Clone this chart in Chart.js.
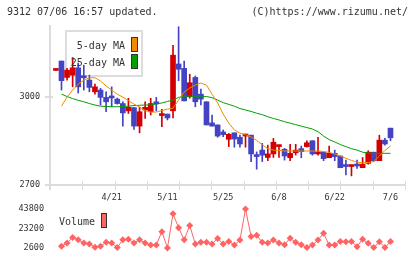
<!DOCTYPE html>
<html>
<head>
<meta charset="utf-8">
<script src="https://cdn.jsdelivr.net/npm/chart.js@4/dist/chart.umd.min.js"></script>
<style>
  body { margin: 0; background: #fff; }
  #wrap { position: relative; width: 420px; height: 259px; overflow: hidden; font-family: "DejaVu Sans Mono", monospace; color: #333; }
  #wrap canvas { position: absolute; left: 0; top: 0; }
  .txt { position: absolute; font-size: 10px; line-height: 12px; white-space: pre; }
  #legbox { position: absolute; left: 65px; top: 30px; width: 74px; height: 43px; border: 2px solid #ddd; }
  .sw { position: absolute; width: 5px; height: 13px; border: 1px solid #333; }
</style>
</head>
<body>
<div id="wrap">
  <div id="legbox"></div>
  <canvas id="main" width="420" height="259"></canvas>
  <canvas id="vol" width="420" height="259"></canvas>
  <div class="txt" style="left:7px;top:6px">9312 07/06 16:57 updated.</div>
  <div class="txt" style="right:12px;top:6px">(C)https://www.rizumu.net/</div>
  <div class="txt" style="right:295px;top:40px">5-day MA</div>
  <div class="txt" style="right:295px;top:57px">25-day MA</div>
  <div class="sw" style="left:131px;top:37px;background:#f08a00"></div>
  <div class="sw" style="left:131px;top:54px;background:#00a000"></div>
  <div class="txt" style="left:59px;top:216px">Volume</div>
  <div class="sw" style="left:101px;top:213px;width:4px;background:#ff6464"></div>
</div>
<script>
const dates = ["4/7","4/8","4/9","4/10","4/13","4/14","4/15","4/16","4/17","4/20",
  "4/21","4/22","4/23","4/24","4/27","4/28","4/30","5/1","5/7","5/8",
  "5/11","5/12","5/13","5/14","5/15","5/18","5/19","5/20","5/21","5/22",
  "5/25","5/26","5/27","5/28","5/29","6/1","6/2","6/3","6/4","6/5",
  "6/8","6/9","6/10","6/11","6/12","6/15","6/16","6/17","6/18","6/19",
  "6/22","6/23","6/24","6/25","6/26","6/29","6/30","7/1","7/2","7/3",
  "7/6"];

const opens = [3091,3123,3067,3075,3100,3071,3058,3018,3024,2999,
  3001,2993,2978,2953,2964,2901,2956,2950,2979,2937,
  2942,2953,3113,3098,3001,3067,3010,2984,2912,2905,
  2881,2856,2878,2863,2867,2870,2800,2819,2794,2806,
  2831,2822,2793,2810,2824,2831,2851,2806,2812,2793,
  2808,2799,2766,2763,2771,2759,2774,2812,2783,2853,
  2894];
const highs = [3093,3123,3098,3135,3116,3109,3075,3044,3030,3018,
  3035,2997,2984,2996,2964,2965,2984,2996,2999,2958,
  2942,3177,3240,3123,3078,3072,3027,2984,2939,2905,
  2888,2876,2878,2870,2874,2870,2813,2842,2836,2859,
  2836,2825,2839,2839,2833,2851,2851,2863,2812,2833,
  2819,2799,2785,2768,2785,2794,2817,2812,2870,2859,
  2894];
const lows = [3091,3024,3058,3035,3014,3024,3018,3010,2973,2950,
  2967,2976,2901,2944,2890,2878,2927,2939,2953,2899,
  2922,2929,3056,2987,2996,2967,2973,2905,2901,2863,
  2865,2831,2829,2829,2829,2780,2754,2780,2783,2794,
  2794,2785,2783,2802,2793,2829,2802,2802,2783,2793,
  2783,2759,2734,2731,2757,2759,2771,2780,2783,2836,
  2851];
const closes = [3093,3056,3092,3100,3035,3066,3033,3035,2999,2984,
  2997,2978,2946,2965,2901,2950,2965,2978,2977,2941,
  2929,3143,3095,2987,3049,2984,2993,2905,2901,2867,
  2872,2873,2857,2840,2874,2806,2797,2802,2806,2846,
  2836,2799,2808,2819,2814,2844,2806,2812,2790,2808,
  2797,2759,2763,2768,2765,2771,2812,2783,2853,2840,
  2861];

const ma5 = [null,2969,3000,3024,3044,3058,3066,3066,3055,3038,
  3024,3010,3000,2988,2976,2966,2954,2949,2949,2954,
  2959,2962,2990,3017,3031,3041,3048,3041,3010,2980,
  2942,2911,2888,2877,2872,2864,2852,2837,2824,2819,
  2818,2816,2816,2816,2816,2816,2816,2816,2814,2811,
  2806,2799,2791,2784,2778,2776,2777,2780,2799,2818,
  2833];
const ma25 = [null,3010,3002,2995,2989,2984,2978,2973,2969,2968,
  2967,2967,2968,2969,2971,2972,2973,2973,2976,2980,
  2985,2990,2999,3003,3003,3003,3003,3002,2998,2990,
  2981,2975,2969,2961,2956,2951,2945,2940,2933,2927,
  2922,2916,2911,2906,2901,2896,2891,2882,2867,2855,
  2847,2838,2831,2824,2819,2812,2809,2808,2808,2808,
  2808];

const volume = [null,4400,7750,13600,11150,7750,6700,3300,4350,8470,
  7750,2900,11150,11870,7750,11150,7750,5690,5690,19800,
  2600,38650,23920,11150,26300,6700,8470,8470,6700,12590,
  6700,9500,5690,10840,43800,14650,16000,8470,7750,10840,
  7750,6000,12900,8470,6000,2900,5690,10840,18050,5690,
  5690,9500,9090,9500,3940,11870,7440,2900,9090,2900,
  9500];

const labelIdx = [10, 20, 30, 40, 50, 60];
const priceTicks = [2700, 3000];
const volTicks = [2600, 23200, 43800];

const RED = "#d40000", BLUE = "#4343c3", ORANGE = "#f08a00", GREEN = "#00a000", VOLC = "#ff6464";
const FONT = { family: '"DejaVu Sans Mono", monospace', size: 8.5 };
const xMin = -1.06, xMax = 62.6;

const candleColors = opens.map((o, i) => closes[i] >= o ? RED : BLUE);

// axis lines and the short tick marks, placed through the chart's scales
const axisLines = {
  id: "axisLines",
  beforeDatasetsDraw(chart) {
    const { ctx, chartArea: a, scales: { x, y } } = chart;
    ctx.save();
    ctx.strokeStyle = "#dcdcdc";
    ctx.lineWidth = 2;
    ctx.beginPath();
    ctx.moveTo(a.left, a.top);
    ctx.lineTo(a.left, a.bottom + 5);
    ctx.moveTo(a.left - 5, a.bottom);
    ctx.lineTo(a.right, a.bottom);
    priceTicks.forEach(v => {
      const py = y.getPixelForValue(v);
      ctx.moveTo(a.left - 5, py);
      ctx.lineTo(a.left + 3, py);
    });
    ctx.stroke();
    ctx.lineWidth = 1;
    ctx.beginPath();
    for (let k = 1; k <= 11; k++) {
      const px = Math.round(x.getPixelForValue(x.min + k * (x.max - x.min) / 11)) + 0.5;
      ctx.moveTo(px, a.bottom - 4);
      ctx.lineTo(px, a.bottom + 5);
    }
    ctx.stroke();
    ctx.restore();
  }
};

new Chart(document.getElementById("main"), {
  type: "bar",
  data: {
    datasets: [
      { type: "line", data: ma5.map((v, i) => ({ x: i, y: v })), borderColor: ORANGE, borderWidth: 1, pointRadius: 0, order: 0 },
      { type: "line", data: ma25.map((v, i) => ({ x: i, y: v })), borderColor: GREEN, borderWidth: 1, pointRadius: 0, order: 0 },
      { data: opens.map((o, i) => ({ x: i, y: [o, closes[i]] })), backgroundColor: candleColors, barThickness: 5, minBarLength: 2, grouped: false, order: 1 },
      { data: highs.map((h, i) => ({ x: i, y: [lows[i], h] })), backgroundColor: candleColors, barThickness: 1, grouped: false, order: 2 }
    ]
  },
  options: {
    responsive: false, animation: false, devicePixelRatio: 1,
    layout: { padding: { left: 0, top: 25, right: 15, bottom: 49 } },
    plugins: { legend: { display: false }, tooltip: { enabled: false } },
    scales: {
      x: {
        type: "linear", min: xMin, max: xMax, offset: false,
        grid: { display: false, drawTicks: false }, border: { display: false },
        afterBuildTicks: s => { s.ticks = labelIdx.map(v => ({ value: v })); },
        afterFit: s => { s.height = 25; },
        ticks: { callback: v => dates[v], font: FONT, color: "#333", padding: 8, maxRotation: 0, autoSkip: false }
      },
      y: {
        min: 2700, max: 3246, beginAtZero: false,
        grid: { display: false, drawTicks: false }, border: { display: false },
        afterBuildTicks: s => { s.ticks = priceTicks.map(v => ({ value: v })); },
        afterFit: s => { s.width = 50; },
        ticks: { callback: v => String(v), font: FONT, color: "#333", padding: 10 }
      }
    }
  },
  plugins: [axisLines]
});

new Chart(document.getElementById("vol"), {
  type: "line",
  data: {
    datasets: [{
      data: volume.map((v, i) => ({ x: i, y: v })),
      borderColor: VOLC, borderWidth: 1,
      pointStyle: "rectRot", pointRadius: 3.5, pointBackgroundColor: VOLC, pointBorderWidth: 0,
      clip: false
    }]
  },
  options: {
    responsive: false, animation: false, devicePixelRatio: 1,
    layout: { padding: { left: 0, top: 209, right: 15, bottom: 10 } },
    plugins: { legend: { display: false }, tooltip: { enabled: false } },
    scales: {
      x: { type: "linear", min: xMin, max: xMax, display: false },
      y: {
        min: 2600, max: 43800,
        grid: { display: false, drawTicks: false }, border: { display: false },
        afterBuildTicks: s => { s.ticks = volTicks.map(v => ({ value: v })); },
        afterFit: s => { s.width = 50; },
        ticks: { callback: v => String(v), font: FONT, color: "#333", padding: 6 }
      }
    }
  }
});
</script>
</body>
</html>
